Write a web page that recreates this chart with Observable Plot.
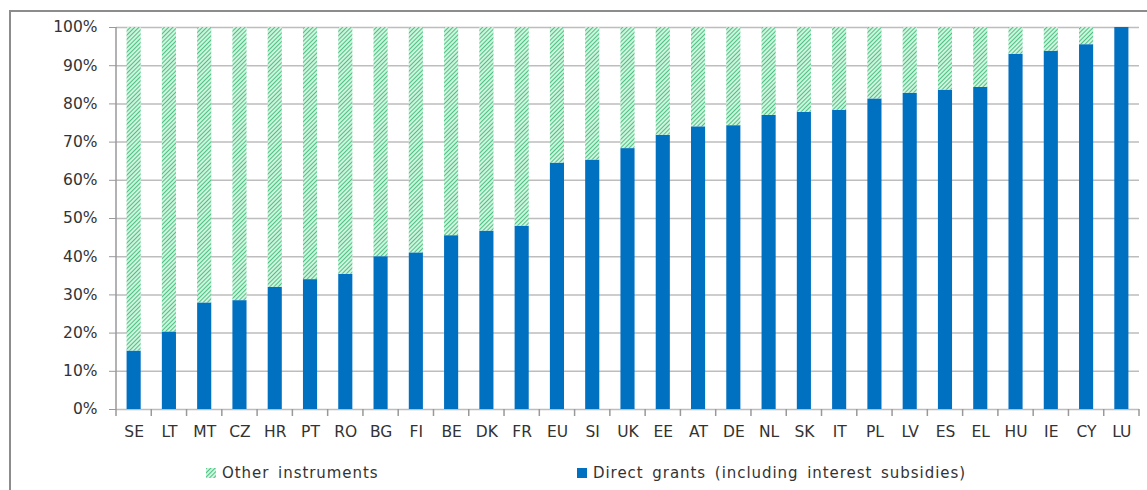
<!DOCTYPE html>
<html>
<head>
<meta charset="utf-8">
<script src="https://cdn.jsdelivr.net/npm/d3@7"></script>
<script src="https://cdn.jsdelivr.net/npm/@observablehq/plot@0.6"></script>
<style>
  html, body { margin: 0; padding: 0; background: #fff; overflow: hidden; }
  body { width: 1147px; height: 490px; position: relative; font-family: "DejaVu Sans", sans-serif; color: #333; }
  #frame { position: absolute; left: 9px; top: 10px; width: 1200px; height: 600px; border-left: 2px solid #8c8c8c; border-top: 2px solid #8c8c8c; box-sizing: border-box; }
  #chart { position: absolute; left: 0; top: 0; }
  .legend { position: absolute; top: 464px; display: flex; align-items: center; font-size: 15px; letter-spacing: 0.95px; word-spacing: 3px; color: #333; }
  .sw { width: 10px; height: 10px; margin-right: 6px; }
</style>
</head>
<body>
<div id="frame"></div>
<div id="chart"></div>
<div class="legend" style="left:206px"><svg class="sw" width="10" height="10"><defs><pattern id="hatchL" width="3" height="3" patternUnits="userSpaceOnUse" patternTransform="rotate(45)"><rect width="3" height="3" fill="#d2f2df"/><line x1="0" y1="0" x2="0" y2="3" stroke="#2dbd6f" stroke-width="1.7"/></pattern></defs><rect width="10" height="10" fill="url(#hatchL)"/></svg><span>Other instruments</span></div>
<div class="legend" style="left:577px"><svg class="sw" width="10" height="10"><rect width="10" height="10" fill="#0070C0"/></svg><span>Direct grants (including interest subsidies)</span></div>
<script>
const countries = ["SE","LT","MT","CZ","HR","PT","RO","BG","FI","BE","DK","FR","EU","SI","UK","EE","AT","DE","NL","SK","IT","PL","LV","ES","EL","HU","IE","CY","LU"];
const directGrants = [15.3,20.3,27.9,28.5,32.0,34.0,35.4,40.0,41.0,45.5,46.7,48.0,64.5,65.3,68.3,71.8,74.0,74.3,77.0,77.8,78.3,81.3,82.8,83.6,84.3,93.0,93.8,95.5,100.0];
const otherInstruments = directGrants.map(v => 100 - v);
const yTicks = [0,10,20,30,40,50,60,70,80,90,100];

const rows = countries.map((c, i) => ({country: c, direct: directGrants[i], other: otherInstruments[i]}));

const chart = Plot.plot({
  width: 1147,
  height: 450,
  marginLeft: 116,
  marginRight: 8,
  marginTop: 27,
  marginBottom: 41,
  style: {fontFamily: "DejaVu Sans, sans-serif", fontSize: "15px", color: "#333", background: "transparent"},
  x: {type: "band", domain: countries, paddingInner: 0.6, paddingOuter: 0.3, round: false, label: null},
  y: {domain: [0, 100], label: null},
  marks: [
    Plot.gridY(yTicks, {stroke: "#bdbdbd", strokeOpacity: 1, strokeWidth: 1.5}),
    Plot.barY(rows, {x: "country", y1: 0, y2: "direct", fill: "#0070C0"}),
    Plot.barY(rows, {x: "country", y1: "direct", y2: 100, fill: "url(#hatch)"}),
    Plot.axisY(yTicks, {tickSize: 7, tickPadding: 12, stroke: "#999", tickFormat: d => d + "%", fontSize: 15.5}),
    Plot.axisX({tickSize: 0, tickPadding: 16, fontSize: 15.5})
  ]
});

const svg = d3.select(chart);
const defs = svg.insert("defs", ":first-child");
const pat = defs.append("pattern").attr("id", "hatch").attr("width", 3).attr("height", 3)
  .attr("patternUnits", "userSpaceOnUse").attr("patternTransform", "rotate(45)");
pat.append("rect").attr("width", 3).attr("height", 3).attr("fill", "#d2f2df");
pat.append("line").attr("x1", 0).attr("y1", 0).attr("x2", 0).attr("y2", 3).attr("stroke", "#2dbd6f").attr("stroke-width", 1.7);

// axis line and category-boundary ticks, positioned from Plot's own scales
const xs = chart.scale("x"), ys = chart.scale("y");
const y0 = ys.apply(0), y100 = ys.apply(100);
const step = xs.step;
const x0 = xs.apply(countries[0]) - step * 0.3;
const g = svg.append("g").attr("stroke", "#999").attr("stroke-width", 1.5);
g.append("line").attr("x1", x0).attr("x2", x0).attr("y1", y100).attr("y2", y0);
for (let i = 0; i <= countries.length; i++) {
  const xb = x0 + i * step;
  g.append("line").attr("x1", xb).attr("x2", xb).attr("y1", y0).attr("y2", y0 + 7);
}

document.getElementById("chart").appendChild(chart);
</script>
</body>
</html>
